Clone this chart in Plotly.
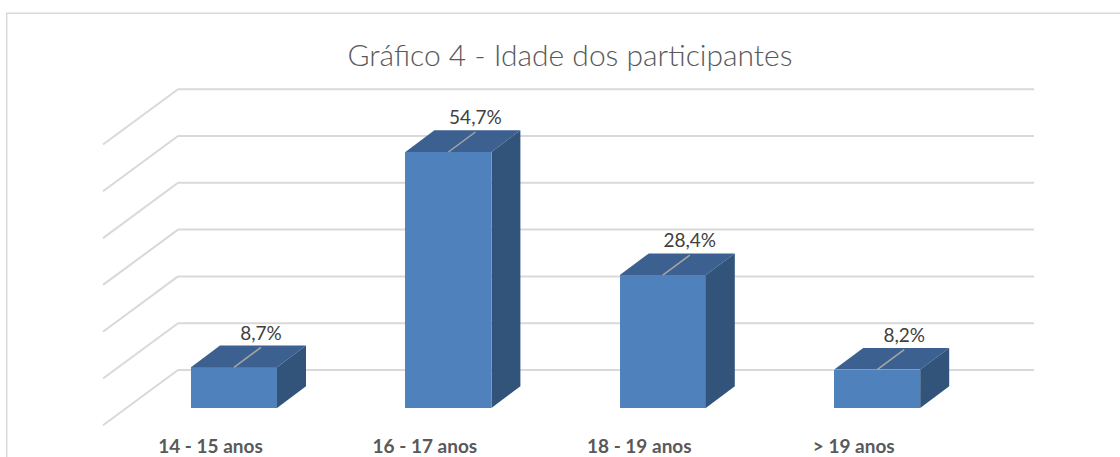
import plotly.graph_objects as go

# ---- data ----
categories = ["14 - 15 anos", "16 - 17 anos", "18 - 19 anos", "> 19 anos"]
values = [8.7, 54.7, 28.4, 8.2]
value_labels = ["8,7%", "54,7%", "28,4%", "8,2%"]
grid_values = [0, 10, 20, 30, 40, 50, 60]
title_text = "Gráfico 4 - Idade dos participantes"

# ---- pseudo-3D geometry (in axis units) ----
W, H = 1120, 457
PX_X = 214.4          # pixels per category step
PX_Y = 4.68           # pixels per percent
X0_PX = 234.0         # pixel of first category centre
BASE_PX = 408.0       # pixel of value 0 at bar front
BOTTOM_PX = 437.0     # bottom of plot area

bar_w = 86 / PX_X
depth_dx = 29 / PX_X
depth_dy = 21.7 / PX_Y
wall_dy = (BASE_PX - 370) / PX_Y
wall_x0 = (178 - X0_PX) / PX_X
wall_x1 = (1034 - X0_PX) / PX_X
side_dx = -75 / PX_X
side_dy = -55.3 / PX_Y
lead_dx = 27 / PX_X
lead_dy = 20 / PX_Y
label_dy = 32.5 / PX_Y
tick_shift = -23.5 / PX_X

xr = [-X0_PX / PX_X, (W - X0_PX) / PX_X]
yr = [(BASE_PX - BOTTOM_PX) / PX_Y, BASE_PX / PX_Y]

FRONT = "#4F81BD"
TOP = "#3C6191"
SIDE = "#32547B"
GRID = "#D9D9D9"
TXT = "#595959"
LBL = "#404040"
FONT = "Lato, 'Open Sans', sans-serif"

xs = list(range(len(categories)))

fig = go.Figure()

# front faces
fig.add_trace(go.Bar(
    x=xs, y=values, width=bar_w, marker=dict(color=FRONT, line=dict(width=0)),
    hoverinfo="skip", showlegend=False,
))

# top and side faces
for i, v in zip(xs, values):
    xl, xrr = i - bar_w / 2, i + bar_w / 2
    fig.add_trace(go.Scatter(
        x=[xl, xrr, xrr + depth_dx, xl + depth_dx, xl],
        y=[v, v, v + depth_dy, v + depth_dy, v],
        mode="lines", fill="toself", fillcolor=TOP, line=dict(width=0),
        hoverinfo="skip", showlegend=False,
    ))
    fig.add_trace(go.Scatter(
        x=[xrr, xrr + depth_dx, xrr + depth_dx, xrr, xrr],
        y=[0, depth_dy, v + depth_dy, v, 0],
        mode="lines", fill="toself", fillcolor=SIDE, line=dict(width=0),
        hoverinfo="skip", showlegend=False,
    ))
    # leader line
    fig.add_trace(go.Scatter(
        x=[i, i + lead_dx], y=[v, v + lead_dy], mode="lines",
        line=dict(color="#A6A6A6", width=1.5),
        hoverinfo="skip", showlegend=False,
    ))

# data labels
fig.add_trace(go.Scatter(
    x=[i + lead_dx for i in xs], y=[v + label_dy for v in values],
    mode="text", text=value_labels, textposition="middle center",
    textfont=dict(family=FONT, size=19, color=LBL),
    hoverinfo="skip", showlegend=False,
))

# back wall grid and side wall diagonals (below traces)
shapes = []
for g in grid_values:
    yb = g + wall_dy
    shapes.append(dict(type="line", xref="x", yref="y", layer="below",
                       x0=wall_x0, y0=yb, x1=wall_x1, y1=yb,
                       line=dict(color=GRID, width=2)))
    shapes.append(dict(type="line", xref="x", yref="y", layer="below",
                       x0=wall_x0, y0=yb, x1=wall_x0 + side_dx, y1=yb + side_dy,
                       line=dict(color=GRID, width=2)))

# chart area border (left and top, rest is outside the frame)
bx = 6.7 / W
by = 1 - 13.3 / BOTTOM_PX
shapes.append(dict(type="path", xref="paper", yref="paper", layer="below",
                   path=f"M {bx},-0.2 L {bx},{by} L 1.05,{by}",
                   line=dict(color=GRID, width=1.5)))

fig.update_layout(
    width=W, height=H,
    margin=dict(l=0, r=0, t=0, b=H - BOTTOM_PX, autoexpand=False),
    paper_bgcolor="white", plot_bgcolor="white",
    shapes=shapes,
    title=dict(text=title_text, x=570 / W, xanchor="center",
               y=1 - 55 / H, yanchor="middle",
               font=dict(family=FONT, size=30, color=TXT, weight=300)),
    xaxis=dict(range=xr, showgrid=False, zeroline=False, showline=False,
               automargin=False,
               tickmode="array", tickvals=[i + tick_shift for i in xs],
               ticktext=categories, ticks="", ticklen=0,
               ticklabelstandoff=-4,
               tickfont=dict(family=FONT, size=19, color=TXT, weight="bold"),
               fixedrange=True),
    yaxis=dict(range=yr, showgrid=False, zeroline=False, showline=False,
               automargin=False, showticklabels=False, fixedrange=True),
    showlegend=False,
    bargap=0,
)

fig.write_html("out.html", config={"displayModeBar": False},
               post_script="document.body.style.margin='0';")
